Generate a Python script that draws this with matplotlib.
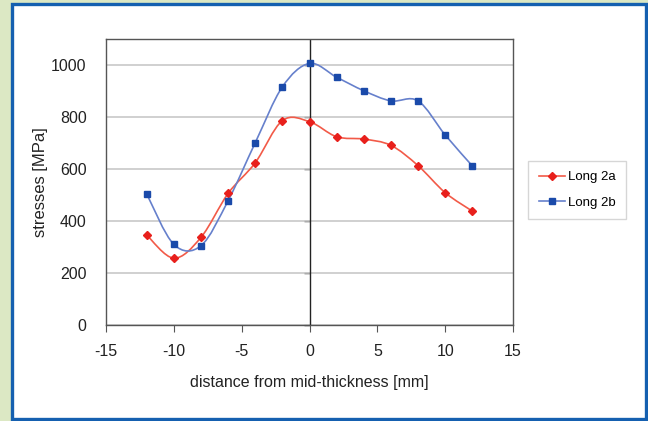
import numpy as np
import matplotlib.pyplot as plt
from matplotlib.path import Path
from matplotlib.patches import PathPatch, Rectangle
from matplotlib.lines import Line2D

plt.rcParams["font.family"] = ["Liberation Sans", "DejaVu Sans"]
plt.rcParams["axes.unicode_minus"] = False

distance = [-12, -10, -8, -6, -4, -2, 0, 2, 4, 6, 8, 10, 12]
long_2a = [346, 257, 337, 506, 624, 786, 782, 724, 715, 691, 613, 509, 438]
long_2b = [504, 310, 305, 478, 701, 916, 1006, 953, 901, 862, 862, 731, 612]


def smooth_path(x, y):
    """Catmull-Rom style bezier path through the points (like Excel's smoothed lines)"""
    pts = np.column_stack([x, y]).astype(float)
    ext = np.vstack([pts[0], pts, pts[-1]])
    verts = [pts[0]]
    codes = [Path.MOVETO]
    for i in range(len(pts) - 1):
        p0, p1, p2, p3 = ext[i], ext[i + 1], ext[i + 2], ext[i + 3]
        verts += [p1 + (p2 - p0) / 6, p2 - (p3 - p1) / 6, p2]
        codes += [Path.CURVE4] * 3
    return Path(verts, codes)


fig = plt.figure(figsize=(6.48, 4.21), dpi=100)
fig.patch.set_facecolor("#dce8c4")
frame = Rectangle((12 / 648, 2 / 421), 634 / 648, 415 / 421,
                  transform=fig.transFigure, facecolor="white",
                  edgecolor="#1560b0", linewidth=2.4, zorder=-5)
fig.add_artist(frame)

ax = fig.add_axes([106 / 648, 1 - 325 / 421, 407 / 648, 286 / 421])
ax.set_zorder(2)

series = [
    (long_2a, "Long 2a", "#f25a48", "#e8201c", "D", 3.6),
    (long_2b, "Long 2b", "#6680cc", "#1a4aaa", "s", 4.2),
]
handles = []
for values, label, lcolor, mcolor, marker, msize in series:
    ax.add_patch(PathPatch(smooth_path(distance, values), facecolor="none",
                           edgecolor=lcolor, linewidth=1.2, zorder=3))
    ax.plot(distance, values, linestyle="none", marker=marker, markersize=msize,
            color=mcolor, zorder=4)
    handles.append(Line2D([], [], color=lcolor, linewidth=1.2, marker=marker,
                          markersize=msize, markerfacecolor=mcolor,
                          markeredgecolor=mcolor, label=label))

ax.set_xlim(-15, 15)
ax.set_ylim(0, 1100)
ax.set_xticks(range(-15, 16, 5))
ax.set_yticks(range(0, 1001, 200))
ax.grid(True, axis="y", color="#c8c8c8", linewidth=1.2)
ax.axvline(0, color="#222222", linewidth=1.0, zorder=2)
for s in ax.spines.values():
    s.set_color("#555555")
    s.set_linewidth(1.0)

ax.tick_params(axis="x", direction="out", length=5, color="#555555",
               labelsize=11.5, pad=9, labelcolor="#222222")
ax.tick_params(axis="y", length=0, labelsize=11.5, pad=14, labelcolor="#222222")

# tick marks on the x = 0 axis line
sec = ax.secondary_yaxis(0.5)
sec.set_yticks(range(0, 1001, 200))
sec.yaxis.set_ticks_position("left")
sec.tick_params(direction="out", length=4, width=1.0, color="#222222",
                labelleft=False, labelright=False)
sec.spines["left"].set_visible(False)
sec.spines["right"].set_visible(False)

ax.set_xlabel("distance from mid-thickness [mm]", fontsize=11.5, labelpad=11,
              color="#222222")
ax.set_ylabel("stresses [MPa]", fontsize=12, labelpad=2, color="#222222")

leg = fig.legend(handles=handles, loc="center left",
                 bbox_to_anchor=(528 / 648, 1 - 190 / 421), fontsize=9.5,
                 frameon=True, fancybox=False, edgecolor="#cccccc",
                 handlelength=2.0, handletextpad=0.25, labelspacing=1.0,
                 borderpad=0.8, borderaxespad=0)
leg.set_zorder(3)

fig.savefig("out.png", dpi=100, facecolor=fig.get_facecolor())
